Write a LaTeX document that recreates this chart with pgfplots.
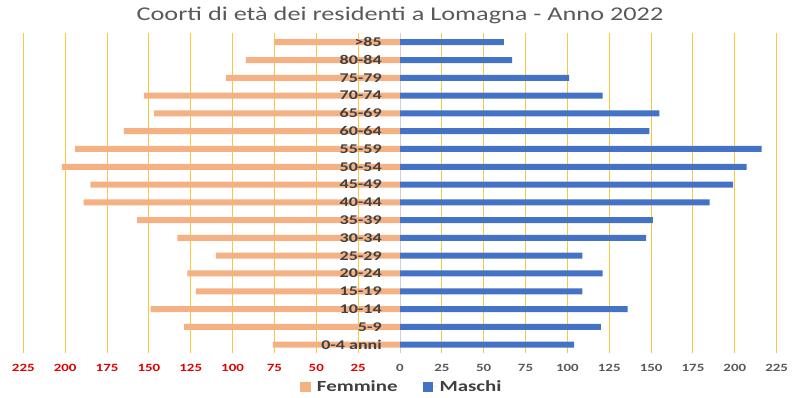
\documentclass[border=0pt]{standalone}
\usepackage{pgfplots}
\pgfplotsset{compat=1.18}
\usepackage{pgfplotstable}
\usepackage{fontspec}
\setmainfont{Carlito}[FakeStretch=1.35]
\definecolor{fem}{HTML}{F4B183}
\definecolor{mas}{HTML}{4472C4}
\definecolor{gridc}{HTML}{F8C93A}
\definecolor{tickred}{HTML}{E00000}
\definecolor{txtgray}{HTML}{595959}
\definecolor{labgray}{HTML}{404040}

\pgfplotstableread[col sep=comma]{
idx,f,m,label
0,-76,104,0-4 anni
1,-129,120,5-9
2,-149,136,10-14
3,-122,109,15-19
4,-127,121,20-24
5,-110,109,25-29
6,-133,147,30-34
7,-157,151,35-39
8,-189,185,40-44
9,-185,199,45-49
10,-202,207,50-54
11,-194,216,55-59
12,-165,149,60-64
13,-147,155,65-69
14,-153,121,70-74
15,-104,101,75-79
16,-92,67,80-84
17,-75,62,>85
}\dati

\begin{document}
\begin{tikzpicture}
\useasboundingbox (0,0) rectangle (600pt,297.75pt);
\node[text=txtgray, font=\fontsize{14.6}{17}\selectfont] at (300pt,286.5pt) {Coorti di età dei residenti a Lomagna - Anno 2022};
\begin{axis}[
  at={(17.5pt,33pt)}, anchor=south west,
  width=565pt, height=240pt, scale only axis,
  xmin=-225, xmax=225, ymin=-0.47, ymax=17.52,
  xtick={-225,-200,-175,-150,-125,-100,-75,-50,-25,25,50,75,100,125,150,175,200,225},
  xticklabels={\textcolor{tickred}{225},\textcolor{tickred}{200},\textcolor{tickred}{175},\textcolor{tickred}{150},\textcolor{tickred}{125},\textcolor{tickred}{100},\textcolor{tickred}{75},\textcolor{tickred}{50},\textcolor{tickred}{25},25,50,75,100,125,150,175,200,225},
  extra x ticks={0}, extra x tick labels={0},
  extra x tick style={grid style={black!18, line width=0.6pt}},
  ytick=\empty,
  xmajorgrids, grid style={gridc, line width=0.75pt},
  axis line style={draw=none}, major tick length=0pt,
  xticklabel style={font=\bfseries\fontsize{8.3}{10}\selectfont, text=txtgray, yshift=-5pt},
  legend columns=2,
  legend style={draw=none, fill=none, at={(0.503,-0.106)}, anchor=center,
    font=\bfseries\fontsize{11.6}{13}\selectfont, text=labgray,
    /tikz/every even column/.append style={column sep=17pt}},
]
\addplot[xbar, bar width=4.5pt, bar shift=0pt, fill=fem, draw=none,
  legend image code/.code={\fill[fem] (0pt,-3.8pt) rectangle (7.8pt,3.8pt); \path (0pt,0pt) -- (10.5pt,0pt);}]
  table[x=f, y=idx]{\dati};
\addlegendentry{Femmine}
\addplot[xbar, bar width=4.5pt, bar shift=0pt, fill=mas, draw=none,
  legend image code/.code={\fill[mas] (0pt,-3.8pt) rectangle (7.8pt,3.8pt); \path (0pt,0pt) -- (10.5pt,0pt);}]
  table[x=m, y=idx]{\dati};
\addlegendentry{Maschi}
\addplot[draw=none, forget plot, nodes near coords, point meta=explicit symbolic,
  nodes near coords style={anchor=east, inner sep=0pt, xshift=-13.5pt,
    font=\bfseries\fontsize{10}{12}\selectfont, text=labgray}]
  table[x expr=0, y=idx, meta=label]{\dati};
\end{axis}
\end{tikzpicture}
\end{document}
